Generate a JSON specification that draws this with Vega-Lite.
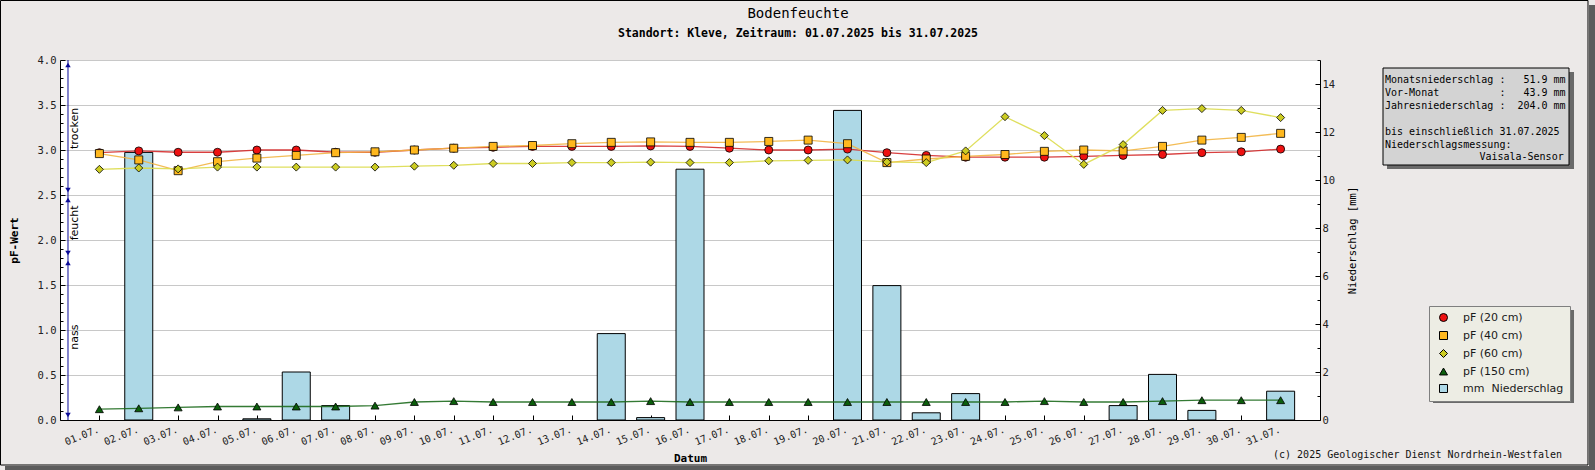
{
  "$schema": "https://vega.github.io/schema/vega-lite/v6.json",
  "width": 1260,
  "height": 360,
  "autosize": {"type": "none"},
  "padding": {"left": 60, "top": 60, "right": 275, "bottom": 50},
  "background": "#ECE9E8",
  "config": {
    "view": {"stroke": null, "fill": "#FFFFFF"},
    "font": "DejaVu Sans Mono",
    "axis": {
      "labelFont": "DejaVu Sans Mono",
      "labelFontSize": 10.5,
      "labelColor": "#222222",
      "titleFont": "DejaVu Sans Mono",
      "titleColor": "#000000",
      "domainColor": "#000000",
      "tickColor": "#000000",
      "domainWidth": 1,
      "tickWidth": 1,
      "grid": false
    },
    "legend": {
      "labelFont": "DejaVu Sans",
      "labelFontSize": 11,
      "labelColor": "#1a1a1a",
      "symbolStrokeColor": "#000000",
      "symbolStrokeWidth": 1
    }
  },
  "datasets": {
    "pf": [
      {"day": 1, "tiefe": "pF (20 cm)", "pf": 2.97},
      {"day": 2, "tiefe": "pF (20 cm)", "pf": 2.99},
      {"day": 3, "tiefe": "pF (20 cm)", "pf": 2.975},
      {"day": 4, "tiefe": "pF (20 cm)", "pf": 2.975},
      {"day": 5, "tiefe": "pF (20 cm)", "pf": 3.0},
      {"day": 6, "tiefe": "pF (20 cm)", "pf": 3.0},
      {"day": 7, "tiefe": "pF (20 cm)", "pf": 2.975},
      {"day": 8, "tiefe": "pF (20 cm)", "pf": 2.975},
      {"day": 9, "tiefe": "pF (20 cm)", "pf": 3.0},
      {"day": 10, "tiefe": "pF (20 cm)", "pf": 3.02},
      {"day": 11, "tiefe": "pF (20 cm)", "pf": 3.03},
      {"day": 12, "tiefe": "pF (20 cm)", "pf": 3.04},
      {"day": 13, "tiefe": "pF (20 cm)", "pf": 3.04},
      {"day": 14, "tiefe": "pF (20 cm)", "pf": 3.04},
      {"day": 15, "tiefe": "pF (20 cm)", "pf": 3.045},
      {"day": 16, "tiefe": "pF (20 cm)", "pf": 3.04},
      {"day": 17, "tiefe": "pF (20 cm)", "pf": 3.02},
      {"day": 18, "tiefe": "pF (20 cm)", "pf": 3.0},
      {"day": 19, "tiefe": "pF (20 cm)", "pf": 3.0},
      {"day": 20, "tiefe": "pF (20 cm)", "pf": 3.01},
      {"day": 21, "tiefe": "pF (20 cm)", "pf": 2.97},
      {"day": 22, "tiefe": "pF (20 cm)", "pf": 2.94},
      {"day": 23, "tiefe": "pF (20 cm)", "pf": 2.92},
      {"day": 24, "tiefe": "pF (20 cm)", "pf": 2.92},
      {"day": 25, "tiefe": "pF (20 cm)", "pf": 2.92},
      {"day": 26, "tiefe": "pF (20 cm)", "pf": 2.93},
      {"day": 27, "tiefe": "pF (20 cm)", "pf": 2.94},
      {"day": 28, "tiefe": "pF (20 cm)", "pf": 2.95},
      {"day": 29, "tiefe": "pF (20 cm)", "pf": 2.97},
      {"day": 30, "tiefe": "pF (20 cm)", "pf": 2.98},
      {"day": 31, "tiefe": "pF (20 cm)", "pf": 3.01},
      {"day": 1, "tiefe": "pF (40 cm)", "pf": 2.96},
      {"day": 2, "tiefe": "pF (40 cm)", "pf": 2.89},
      {"day": 3, "tiefe": "pF (40 cm)", "pf": 2.77},
      {"day": 4, "tiefe": "pF (40 cm)", "pf": 2.87},
      {"day": 5, "tiefe": "pF (40 cm)", "pf": 2.91},
      {"day": 6, "tiefe": "pF (40 cm)", "pf": 2.94},
      {"day": 7, "tiefe": "pF (40 cm)", "pf": 2.97},
      {"day": 8, "tiefe": "pF (40 cm)", "pf": 2.98},
      {"day": 9, "tiefe": "pF (40 cm)", "pf": 3.0},
      {"day": 10, "tiefe": "pF (40 cm)", "pf": 3.02},
      {"day": 11, "tiefe": "pF (40 cm)", "pf": 3.04},
      {"day": 12, "tiefe": "pF (40 cm)", "pf": 3.05},
      {"day": 13, "tiefe": "pF (40 cm)", "pf": 3.07},
      {"day": 14, "tiefe": "pF (40 cm)", "pf": 3.085},
      {"day": 15, "tiefe": "pF (40 cm)", "pf": 3.09},
      {"day": 16, "tiefe": "pF (40 cm)", "pf": 3.085},
      {"day": 17, "tiefe": "pF (40 cm)", "pf": 3.085},
      {"day": 18, "tiefe": "pF (40 cm)", "pf": 3.095},
      {"day": 19, "tiefe": "pF (40 cm)", "pf": 3.11},
      {"day": 20, "tiefe": "pF (40 cm)", "pf": 3.07},
      {"day": 21, "tiefe": "pF (40 cm)", "pf": 2.86},
      {"day": 22, "tiefe": "pF (40 cm)", "pf": 2.9},
      {"day": 23, "tiefe": "pF (40 cm)", "pf": 2.93},
      {"day": 24, "tiefe": "pF (40 cm)", "pf": 2.95},
      {"day": 25, "tiefe": "pF (40 cm)", "pf": 2.985},
      {"day": 26, "tiefe": "pF (40 cm)", "pf": 3.0},
      {"day": 27, "tiefe": "pF (40 cm)", "pf": 2.99},
      {"day": 28, "tiefe": "pF (40 cm)", "pf": 3.04},
      {"day": 29, "tiefe": "pF (40 cm)", "pf": 3.11},
      {"day": 30, "tiefe": "pF (40 cm)", "pf": 3.14},
      {"day": 31, "tiefe": "pF (40 cm)", "pf": 3.185},
      {"day": 1, "tiefe": "pF (60 cm)", "pf": 2.785},
      {"day": 2, "tiefe": "pF (60 cm)", "pf": 2.8},
      {"day": 3, "tiefe": "pF (60 cm)", "pf": 2.79},
      {"day": 4, "tiefe": "pF (60 cm)", "pf": 2.81},
      {"day": 5, "tiefe": "pF (60 cm)", "pf": 2.81},
      {"day": 6, "tiefe": "pF (60 cm)", "pf": 2.81},
      {"day": 7, "tiefe": "pF (60 cm)", "pf": 2.81},
      {"day": 8, "tiefe": "pF (60 cm)", "pf": 2.81},
      {"day": 9, "tiefe": "pF (60 cm)", "pf": 2.82},
      {"day": 10, "tiefe": "pF (60 cm)", "pf": 2.83},
      {"day": 11, "tiefe": "pF (60 cm)", "pf": 2.85},
      {"day": 12, "tiefe": "pF (60 cm)", "pf": 2.85},
      {"day": 13, "tiefe": "pF (60 cm)", "pf": 2.86},
      {"day": 14, "tiefe": "pF (60 cm)", "pf": 2.86},
      {"day": 15, "tiefe": "pF (60 cm)", "pf": 2.865},
      {"day": 16, "tiefe": "pF (60 cm)", "pf": 2.86},
      {"day": 17, "tiefe": "pF (60 cm)", "pf": 2.86},
      {"day": 18, "tiefe": "pF (60 cm)", "pf": 2.88},
      {"day": 19, "tiefe": "pF (60 cm)", "pf": 2.885},
      {"day": 20, "tiefe": "pF (60 cm)", "pf": 2.89},
      {"day": 21, "tiefe": "pF (60 cm)", "pf": 2.867},
      {"day": 22, "tiefe": "pF (60 cm)", "pf": 2.86},
      {"day": 23, "tiefe": "pF (60 cm)", "pf": 2.99},
      {"day": 24, "tiefe": "pF (60 cm)", "pf": 3.37},
      {"day": 25, "tiefe": "pF (60 cm)", "pf": 3.16},
      {"day": 26, "tiefe": "pF (60 cm)", "pf": 2.84},
      {"day": 27, "tiefe": "pF (60 cm)", "pf": 3.06},
      {"day": 28, "tiefe": "pF (60 cm)", "pf": 3.44},
      {"day": 29, "tiefe": "pF (60 cm)", "pf": 3.46},
      {"day": 30, "tiefe": "pF (60 cm)", "pf": 3.44},
      {"day": 31, "tiefe": "pF (60 cm)", "pf": 3.36},
      {"day": 1, "tiefe": "pF (150 cm)", "pf": 0.12},
      {"day": 2, "tiefe": "pF (150 cm)", "pf": 0.13},
      {"day": 3, "tiefe": "pF (150 cm)", "pf": 0.14},
      {"day": 4, "tiefe": "pF (150 cm)", "pf": 0.15},
      {"day": 5, "tiefe": "pF (150 cm)", "pf": 0.15},
      {"day": 6, "tiefe": "pF (150 cm)", "pf": 0.15},
      {"day": 7, "tiefe": "pF (150 cm)", "pf": 0.15},
      {"day": 8, "tiefe": "pF (150 cm)", "pf": 0.16},
      {"day": 9, "tiefe": "pF (150 cm)", "pf": 0.2},
      {"day": 10, "tiefe": "pF (150 cm)", "pf": 0.21},
      {"day": 11, "tiefe": "pF (150 cm)", "pf": 0.2},
      {"day": 12, "tiefe": "pF (150 cm)", "pf": 0.2},
      {"day": 13, "tiefe": "pF (150 cm)", "pf": 0.2},
      {"day": 14, "tiefe": "pF (150 cm)", "pf": 0.2},
      {"day": 15, "tiefe": "pF (150 cm)", "pf": 0.21},
      {"day": 16, "tiefe": "pF (150 cm)", "pf": 0.2},
      {"day": 17, "tiefe": "pF (150 cm)", "pf": 0.2},
      {"day": 18, "tiefe": "pF (150 cm)", "pf": 0.2},
      {"day": 19, "tiefe": "pF (150 cm)", "pf": 0.2},
      {"day": 20, "tiefe": "pF (150 cm)", "pf": 0.2},
      {"day": 21, "tiefe": "pF (150 cm)", "pf": 0.2},
      {"day": 22, "tiefe": "pF (150 cm)", "pf": 0.2},
      {"day": 23, "tiefe": "pF (150 cm)", "pf": 0.2},
      {"day": 24, "tiefe": "pF (150 cm)", "pf": 0.2},
      {"day": 25, "tiefe": "pF (150 cm)", "pf": 0.21},
      {"day": 26, "tiefe": "pF (150 cm)", "pf": 0.2},
      {"day": 27, "tiefe": "pF (150 cm)", "pf": 0.2},
      {"day": 28, "tiefe": "pF (150 cm)", "pf": 0.21},
      {"day": 29, "tiefe": "pF (150 cm)", "pf": 0.22},
      {"day": 30, "tiefe": "pF (150 cm)", "pf": 0.22},
      {"day": 31, "tiefe": "pF (150 cm)", "pf": 0.22}
    ],
    "ns": [
      {"day": 2, "mm": 11.15},
      {"day": 5, "mm": 0.05},
      {"day": 6, "mm": 2.0},
      {"day": 7, "mm": 0.6},
      {"day": 14, "mm": 3.6},
      {"day": 15, "mm": 0.1},
      {"day": 16, "mm": 10.45},
      {"day": 20, "mm": 12.9},
      {"day": 21, "mm": 5.6},
      {"day": 22, "mm": 0.3},
      {"day": 23, "mm": 1.1},
      {"day": 27, "mm": 0.6},
      {"day": 28, "mm": 1.9},
      {"day": 29, "mm": 0.4},
      {"day": 31, "mm": 1.2}
    ]
  },
  "resolve": {"scale": {"y": "independent"}},
  "layer": [
    {
      "data": {"name": "ns"},
      "mark": {"type": "bar", "width": 28, "stroke": "#000000", "strokeWidth": 1},
      "encoding": {
        "x": {
          "field": "day",
          "type": "quantitative",
          "scale": {"domain": [0, 32], "nice": false, "zero": false, "padding": 0},
          "axis": {
            "values": [1,2,3,4,5,6,7,8,9,10,11,12,13,14,15,16,17,18,19,20,21,22,23,24,25,26,27,28,29,30,31],
            "labelExpr": "(datum.value < 10 ? '0' : '') + datum.value + '.07.'",
            "labelAngle": -22,
            "labelAlign": "right",
            "labelBaseline": "top",
            "labelOffset": -3,
            "labelPadding": 9,
            "labelFontSize": 10,
            "labelOverlap": false,
            "labelFlush": false,
            "tickSize": -5,
            "title": "Datum",
            "titleFontWeight": "bold",
            "titleFontSize": 11,
            "titlePadding": 6,
            "grid": false
          }
        },
        "y": {
          "field": "mm",
          "type": "quantitative",
          "scale": {"domain": [0, 15], "nice": false},
          "axis": {
            "orient": "right",
            "values": [0, 2, 4, 6, 8, 10, 12, 14],
            "format": "d",
            "tickSize": -5,
            "labelPadding": 7,
            "grid": false,
            "title": "Niederschlag [mm]",
            "titleAngle": 270,
            "titleBaseline": "top",
            "titleFontWeight": "normal",
            "titleFontSize": 10.5,
            "titlePadding": 13
          }
        },
        "color": {
          "datum": "mm\u00a0\u00a0Niederschlag",
          "type": "nominal",
          "scale": {
            "domain": ["pF (20 cm)", "pF (40 cm)", "pF (60 cm)", "pF (150 cm)", "mm\u00a0\u00a0Niederschlag"],
            "range": ["#EE1111", "#FFB81E", "#CCCC22", "#0B5E0B", "#ADD8E6"]
          }
        }
      }
    },
    {
      "data": {"name": "ns"},
      "mark": {"type": "point", "opacity": 0},
      "encoding": {
        "x": {"field": "day", "type": "quantitative", "scale": {"domain": [0, 32], "nice": false, "zero": false, "padding": 0}},
        "y": {
          "field": "mm",
          "type": "quantitative",
          "scale": {"domain": [0, 15], "nice": false},
          "axis": {
            "orient": "right",
            "values": [1, 3, 5, 7, 9, 11, 13, 15],
            "tickSize": -3,
            "labels": false,
            "domain": false,
            "grid": false,
            "title": null
          }
        }
      }
    },
    {
      "layer": [
        {
          "data": {"values": [{}]},
          "mark": {"type": "rect", "fill": "#5C5C5C"},
          "encoding": {
            "x": {"datum": 38.832, "type": "quantitative"},
            "x2": {"datum": 39.02},
            "y": {"datum": 4.611, "type": "quantitative"},
            "y2": {"datum": -0.57}
          }
        },
        {
          "data": {"values": [{}]},
          "mark": {"type": "rect", "fill": "#5C5C5C"},
          "encoding": {
            "x": {"datum": -1.397, "type": "quantitative"},
            "x2": {"datum": 39.02},
            "y": {"datum": -0.5111, "type": "quantitative"},
            "y2": {"datum": -0.57}
          }
        },
        {
          "data": {"values": [{}]},
          "mark": {"type": "rect", "fillOpacity": 0, "stroke": "#000000", "strokeWidth": 1},
          "encoding": {
            "x": {"datum": -1.511, "type": "quantitative"},
            "x2": {"datum": 38.806},
            "y": {"datum": 4.6611, "type": "quantitative"},
            "y2": {"datum": -0.5}
          }
        },
        {
          "data": {"values": [{}]},
          "mark": {"type": "text", "font": "DejaVu Sans Mono", "fontSize": 14, "align": "center", "baseline": "middle", "color": "#000000", "text": "Bodenfeuchte"},
          "encoding": {
            "x": {"datum": 18.743, "type": "quantitative"},
            "y": {"datum": 4.511, "type": "quantitative"}
          }
        },
        {
          "data": {"values": [{}]},
          "mark": {"type": "text", "font": "DejaVu Sans Mono", "fontSize": 11.5, "fontWeight": "bold", "align": "center", "baseline": "middle", "color": "#000000", "text": "Standort: Kleve, Zeitraum: 01.07.2025 bis 31.07.2025"},
          "encoding": {
            "x": {"datum": 18.743, "type": "quantitative"},
            "y": {"datum": 4.294, "type": "quantitative"}
          }
        },
        {
          "data": {"values": [{}]},
          "mark": {"type": "rect", "fill": "#6A6A6A"},
          "encoding": {
            "x": {"datum": 33.702, "type": "quantitative"},
            "x2": {"datum": 38.451},
            "y": {"datum": 3.8667, "type": "quantitative"},
            "y2": {"datum": 2.7889}
          }
        },
        {
          "data": {"values": [{}]},
          "mark": {"type": "rect", "fill": "#D3D3D3", "stroke": "#000000", "strokeWidth": 1},
          "encoding": {
            "x": {"datum": 33.6, "type": "quantitative"},
            "x2": {"datum": 38.324},
            "y": {"datum": 3.9111, "type": "quantitative"},
            "y2": {"datum": 2.8333}
          }
        },
        {
          "data": {"values": [{}]},
          "mark": {
            "type": "text",
            "font": "DejaVu Sans Mono",
            "fontSize": 10,
            "align": "left",
            "baseline": "alphabetic",
            "lineHeight": 12.9,
            "color": "#000000",
            "text": [
              "Monatsniederschlag\u00a0:\u00a0\u00a0\u00a051.9\u00a0mm",
              "Vor-Monat\u00a0\u00a0\u00a0\u00a0\u00a0\u00a0\u00a0\u00a0\u00a0\u00a0:\u00a0\u00a0\u00a043.9\u00a0mm",
              "Jahresniederschlag\u00a0:\u00a0\u00a0204.0\u00a0mm"
            ]
          },
          "encoding": {
            "x": {"datum": 33.651, "type": "quantitative"},
            "y": {"datum": 3.7444, "type": "quantitative"}
          }
        },
        {
          "data": {"values": [{}]},
          "mark": {
            "type": "text",
            "font": "DejaVu Sans Mono",
            "fontSize": 10,
            "align": "left",
            "baseline": "alphabetic",
            "lineHeight": 12.9,
            "color": "#000000",
            "text": ["bis einschließlich 31.07.2025", "Niederschlagsmessung:"]
          },
          "encoding": {
            "x": {"datum": 33.651, "type": "quantitative"},
            "y": {"datum": 3.171, "type": "quantitative"}
          }
        },
        {
          "data": {"values": [{}]},
          "mark": {"type": "text", "font": "DejaVu Sans Mono", "fontSize": 10, "align": "right", "baseline": "alphabetic", "color": "#000000", "text": "Vaisala-Sensor"},
          "encoding": {
            "x": {"datum": 38.189, "type": "quantitative"},
            "y": {"datum": 2.8844, "type": "quantitative"}
          }
        },
        {
          "data": {"values": [{}]},
          "mark": {"type": "rect", "fill": "#6A6A6A"},
          "encoding": {
            "x": {"datum": 34.87, "type": "quantitative"},
            "x2": {"datum": 38.451},
            "y": {"datum": 1.2222, "type": "quantitative"},
            "y2": {"datum": 0.1889}
          }
        },
        {
          "data": {"values": [{}]},
          "mark": {"type": "text", "font": "DejaVu Sans Mono", "fontSize": 10, "align": "right", "baseline": "middle", "color": "#111111", "text": "(c) 2025 Geologischer Dienst Nordrhein-Westfalen"},
          "encoding": {
            "x": {"datum": 38.146, "type": "quantitative"},
            "y": {"datum": -0.3889, "type": "quantitative"}
          }
        },
        {
          "data": {"values": [{}]},
          "mark": {"type": "rule", "color": "#0A0A96", "strokeWidth": 1},
          "encoding": {
            "x": {"datum": 0.203, "type": "quantitative"},
            "y": {"datum": 0, "type": "quantitative"},
            "y2": {"datum": 4}
          }
        },
        {
          "data": {"values": [{"grenze": 4.0}, {"grenze": 2.5}, {"grenze": 1.8}]},
          "mark": {"type": "point", "shape": "triangle-up", "filled": true, "opacity": 1, "color": "#0A0A96", "size": 30},
          "encoding": {
            "x": {"datum": 0.203, "type": "quantitative"},
            "y": {"field": "grenze", "type": "quantitative"},
            "yOffset": {"value": 5}
          }
        },
        {
          "data": {"values": [{"grenze": 2.5}, {"grenze": 1.8}, {"grenze": 0}]},
          "mark": {"type": "point", "shape": "triangle-down", "filled": true, "opacity": 1, "color": "#0A0A96", "size": 30},
          "encoding": {
            "x": {"datum": 0.203, "type": "quantitative"},
            "y": {"field": "grenze", "type": "quantitative"},
            "yOffset": {"value": -5}
          }
        },
        {
          "data": {"values": [{"zone": "trocken", "pf": 3.24}, {"zone": "feucht", "pf": 2.19}, {"zone": "nass", "pf": 0.92}]},
          "mark": {"type": "text", "font": "DejaVu Sans", "fontSize": 11, "angle": 270, "align": "center", "baseline": "middle", "color": "#000000"},
          "encoding": {
            "x": {"datum": 0.39, "type": "quantitative"},
            "y": {"field": "pf", "type": "quantitative"},
            "text": {"field": "zone"}
          }
        },
        {
          "data": {"name": "pf"},
          "mark": {"type": "line", "strokeWidth": 1.3, "opacity": 0.9},
          "encoding": {
            "x": {"field": "day", "type": "quantitative", "scale": {"domain": [0, 32], "nice": false, "zero": false, "padding": 0}},
            "y": {
              "field": "pf",
              "type": "quantitative",
              "scale": {"domain": [0, 4], "nice": false},
              "axis": {
                "orient": "left",
                "values": [0, 0.5, 1, 1.5, 2, 2.5, 3, 3.5, 4],
                "format": ".1f",
                "tickSize": -5,
                "labelPadding": 9,
                "grid": true,
                "gridColor": "#C8C8C8",
                "gridWidth": 1,
                "title": "pF-Wert",
                "titleFontWeight": "bold",
                "titleFontSize": 11,
                "titlePadding": 18
              }
            },
            "stroke": {
              "field": "tiefe",
              "type": "nominal",
              "scale": {
                "domain": ["pF (20 cm)", "pF (40 cm)", "pF (60 cm)", "pF (150 cm)"],
                "range": ["#D42A2A", "#F2B544", "#DCDC4C", "#1E6B1E"]
              },
              "legend": null
            }
          }
        },
        {
          "data": {"name": "pf"},
          "mark": {"type": "point", "filled": true, "opacity": 1, "stroke": "#000000", "strokeWidth": 0.8, "size": 64},
          "encoding": {
            "x": {"field": "day", "type": "quantitative"},
            "y": {"field": "pf", "type": "quantitative"},
            "color": {
              "field": "tiefe",
              "type": "nominal",
              "scale": {
                "domain": ["pF (20 cm)", "pF (40 cm)", "pF (60 cm)", "pF (150 cm)", "mm\u00a0\u00a0Niederschlag"],
                "range": ["#EE1111", "#FFB81E", "#CCCC22", "#0B5E0B", "#ADD8E6"]
              },
              "legend": {
                "title": null,
                "orient": "none",
                "legendX": 1369,
                "legendY": 246,
                "padding": 6,
                "fillColor": "#EDEDE4",
                "strokeColor": "#7F7F7F",
                "symbolSize": 64,
                "rowPadding": 5,
                "labelOffset": 14,
                "symbolOffset": 3
              }
            },
            "shape": {
              "field": "tiefe",
              "type": "nominal",
              "scale": {
                "domain": ["pF (20 cm)", "pF (40 cm)", "pF (60 cm)", "pF (150 cm)", "mm\u00a0\u00a0Niederschlag"],
                "range": ["circle", "square", "diamond", "triangle-up", "square"]
              }
            }
          }
        }
      ]
    },
    {
      "data": {"name": "pf"},
      "mark": {"type": "point", "opacity": 0},
      "encoding": {
        "x": {"field": "day", "type": "quantitative"},
        "y": {
          "field": "pf",
          "type": "quantitative",
          "scale": {"domain": [0, 4], "nice": false},
          "axis": {
            "orient": "left",
            "values": [0.1,0.2,0.3,0.4,0.6,0.7,0.8,0.9,1.1,1.2,1.3,1.4,1.6,1.7,1.8,1.9,2.1,2.2,2.3,2.4,2.6,2.7,2.8,2.9,3.1,3.2,3.3,3.4,3.6,3.7,3.8,3.9],
            "tickSize": -3,
            "labels": false,
            "domain": false,
            "grid": false,
            "title": null
          }
        }
      }
    }
  ]
}
